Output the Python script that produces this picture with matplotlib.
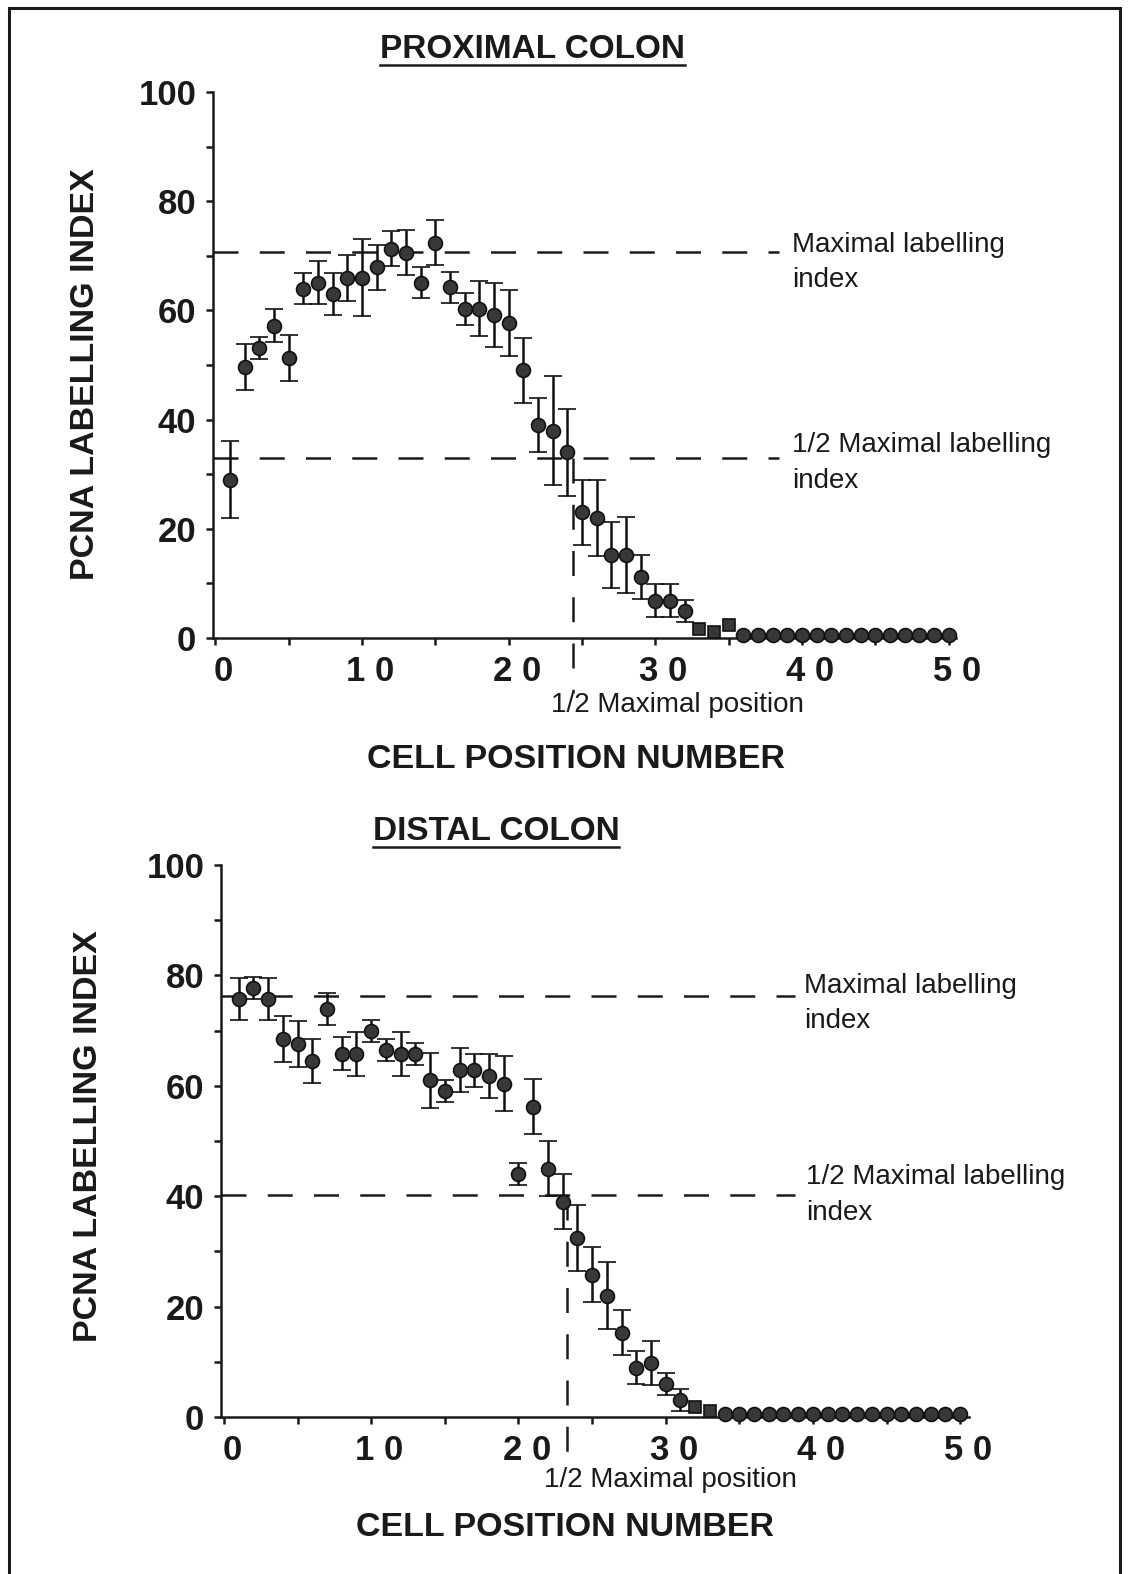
import matplotlib
matplotlib.use('Agg')
import matplotlib.pyplot as plt
import matplotlib.transforms as mtransforms
import numpy as np
from matplotlib.lines import Line2D
from matplotlib.patches import Rectangle

plt.rcParams['font.family'] = ['Liberation Sans', 'DejaVu Sans']

W, H = 1128, 1574

# cell positions 1..50
cells = np.arange(1, 51)

# proximal colon
prox_y = [29, 49.6, 53.1, 57.2, 51.3, 64, 65.1, 63, 66, 66, 67.9, 71.3, 70.6, 65.1, 72.4,
          64.2, 60.3, 60.3, 59.2, 57.7, 49, 39, 38, 34, 23, 22, 15.2, 15.2, 11.2, 6.8,
          6.8, 5, 1.7, 1.1, 2.3] + [0.5] * 15
prox_err = [7, 4.2, 2, 3, 4.2, 2.9, 4, 3.9, 4.2, 7.1, 4.1, 3.2, 4.1, 2.9, 4.1,
            2.9, 2.9, 5, 5.9, 6, 6, 5, 10, 8, 6, 7, 6, 7, 4, 3,
            3, 2, 0, 0, 0] + [0] * 15
prox_squares = [33, 34, 35]
prox_max = 70.7
prox_half = 32.9
prox_half_pos = 24.4

# distal colon
dist_y = [75.8, 77.8, 75.8, 68.5, 67.6, 64.5, 74, 65.8, 65.8, 70, 66.5, 65.8, 65.8, 61, 59,
          62.8, 62.8, 61.8, 60.4, 44, 56.2, 45, 39, 32.4, 25.8, 22, 15.3, 8.9, 9.8, 6,
          3, 1.8, 1.0] + [0.5] * 17
dist_err = [3.8, 2, 3.8, 4.1, 4.2, 4, 2.9, 3, 4, 2, 2, 4, 2, 5, 2,
            4, 3, 4, 5, 2, 5, 5, 5, 6, 5, 6, 4, 3, 4, 2,
            2, 0, 0] + [0] * 17
dist_squares = [32, 33]
dist_max = 76.3
dist_half = 40.3
dist_half_pos = 23.3

xtick_labels = ['0', '1 0', '2 0', '3 0', '4 0', '5 0']

fig = plt.figure(figsize=(W / 100, H / 100), dpi=100)


def fx(x):
    return x / W


def fy(y):
    return 1 - y / H


def ftext(x, y, s, **kw):
    return fig.text(fx(x), fy(y), s, **kw)


def draw_panel(rect, xlim, y, err, squares, ymax, yhalf, xhalf, line_end):
    left, right, top, bottom = rect
    ax = fig.add_axes([fx(left), fy(bottom), (right - left) / W, (bottom - top) / H])
    ax.set_xlim(*xlim)
    ax.set_ylim(0, 100)
    for s in ['top', 'right']:
        ax.spines[s].set_visible(False)
    for s in ['left', 'bottom']:
        ax.spines[s].set_linewidth(1.8)
        ax.spines[s].set_color('#1a1a1a')

    ax.set_yticks(np.arange(0, 101, 20))
    ax.set_yticks(np.arange(10, 100, 20), minor=True)
    ax.set_xticks(np.arange(0, 51, 10))
    ax.set_xticks(np.arange(5, 50, 10), minor=True)
    ax.set_xticklabels(xtick_labels)
    ax.tick_params(which='both', direction='out', length=5, width=1.8, color='#1a1a1a')
    ax.tick_params(axis='y', labelsize=25, pad=7)
    ax.tick_params(axis='x', labelsize=25, pad=7)
    shift = mtransforms.ScaledTranslation(6 / 72, 0, fig.dpi_scale_trans)
    for lab in ax.get_xticklabels():
        lab.set_transform(lab.get_transform() + shift)
    for lab in ax.get_xticklabels() + ax.get_yticklabels():
        lab.set_fontweight('bold')
        lab.set_color('#1a1a1a')

    y = np.array(y, dtype=float)
    err = np.array(err, dtype=float)
    is_sq = np.isin(cells, squares)
    has_err = (err > 0) & ~is_sq
    no_err = (err == 0) & ~is_sq

    ax.errorbar(cells[has_err], y[has_err], yerr=err[has_err], fmt='o', ms=10,
                mfc='#383838', mec='#111111', mew=1.2, ecolor='#111111',
                elinewidth=1.8, capsize=6.5, capthick=1.8, clip_on=False, zorder=3)
    ax.plot(cells[no_err], y[no_err], 'o', ms=10, mfc='#383838', mec='#111111',
            mew=1.2, clip_on=False, zorder=3)
    ax.plot(cells[is_sq], y[is_sq], 's', ms=8.5, mfc='#383838', mec='#111111',
            mew=1.2, clip_on=False, zorder=3)

    # reference lines
    ax.plot([xlim[0], line_end], [ymax, ymax], color='#1a1a1a', lw=1.8, dashes=(10, 8.5))
    ax.plot([xlim[0], line_end], [yhalf, yhalf], color='#1a1a1a', lw=1.8, dashes=(10, 8.5))
    ax.plot([xhalf, xhalf], [yhalf, -10], color='#1a1a1a', lw=1.8, dashes=(10, 8.5),
            clip_on=False)
    return ax


ax1 = draw_panel((213, 956, 92, 638), (-0.15, 50.5), prox_y, prox_err, prox_squares,
                 prox_max, prox_half, prox_half_pos, 38.4)
ax2 = draw_panel((221, 969, 865, 1417), (-0.2, 50.6), dist_y, dist_err, dist_squares,
                 dist_max, dist_half, dist_half_pos, 38.8)

bold = dict(fontweight='bold', color='#1a1a1a', ha='center', va='center')
t1 = ftext(532, 50, 'PROXIMAL COLON', fontsize=24, **bold)
t2 = ftext(496, 832, 'DISTAL COLON', fontsize=24, **bold)
ftext(576, 760, 'CELL POSITION NUMBER', fontsize=24.5, **bold)
ftext(565, 1527, 'CELL POSITION NUMBER', fontsize=24.5, **bold)
ftext(86, 374, 'PCNA LABELLING INDEX', fontsize=24.5, rotation=90, **bold)
ftext(89, 1136, 'PCNA LABELLING INDEX', fontsize=24.5, rotation=90, **bold)

norm = dict(fontsize=20, color='#1a1a1a', va='center')
ftext(792, 245, 'Maximal labelling', ha='left', **norm)
ftext(792, 280, 'index', ha='left', **norm)
ftext(792, 445, '1/2 Maximal labelling', ha='left', **norm)
ftext(792, 481, 'index', ha='left', **norm)
ftext(804, 986, 'Maximal labelling', ha='left', **norm)
ftext(804, 1021, 'index', ha='left', **norm)
ftext(806, 1177, '1/2 Maximal labelling', ha='left', **norm)
ftext(806, 1213, 'index', ha='left', **norm)
ftext(677, 705, '1/2 Maximal position', ha='center', **norm)
ftext(670, 1480, '1/2 Maximal position', ha='center', **norm)

# underline the panel titles
fig.canvas.draw()
r = fig.canvas.get_renderer()
for t in (t1, t2):
    bb = t.get_window_extent(r)
    yline = bb.y0 + 1
    fig.add_artist(Line2D([bb.x0 / W, bb.x1 / W], [yline / H, yline / H],
                          color='#1a1a1a', lw=1.8))

# outer frame
fig.add_artist(Rectangle((fx(9), -0.02), fx(1120) - fx(9), fy(8) + 0.02, fill=False,
                         edgecolor='#1a1a1a', lw=2.2, transform=fig.transFigure))

fig.savefig('out.png', dpi=100)
